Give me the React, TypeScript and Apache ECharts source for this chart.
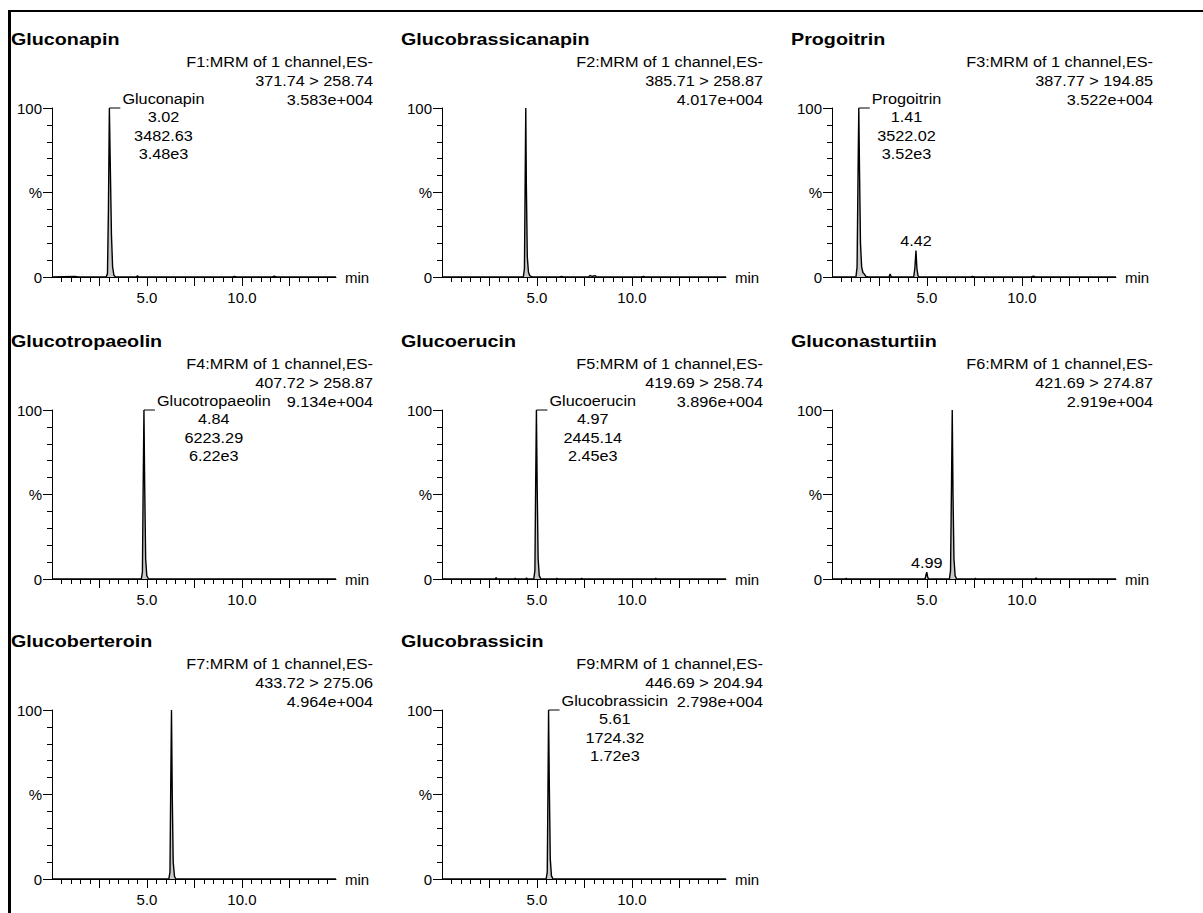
import React, { useEffect, useRef } from "react";
import * as echarts from "echarts";

// ---------- data ----------
const compounds = [
  "Gluconapin",
  "Glucobrassicanapin",
  "Progoitrin",
  "Glucotropaeolin",
  "Glucoerucin",
  "Gluconasturtiin",
  "Glucoberteroin",
  "Glucobrassicin",
];
const functionIds = ["F1", "F2", "F3", "F4", "F5", "F6", "F7", "F9"];
const transitions = [
  "371.74 > 258.74",
  "385.71 > 258.87",
  "387.77 > 194.85",
  "407.72 > 258.87",
  "419.69 > 258.74",
  "421.69 > 274.87",
  "433.72 > 275.06",
  "446.69 > 204.94",
];
const maxIntensities = [
  "3.583e+004",
  "4.017e+004",
  "3.522e+004",
  "9.134e+004",
  "3.896e+004",
  "2.919e+004",
  "4.964e+004",
  "2.798e+004",
];

// chromatogram traces: [time (min), relative intensity (%)]
const traceGluconapin = [
  [0, 0], [1.2, 0.3], [1.4, 0], [2.85, 0], [2.92, 2], [2.97, 40], [3.02, 100], [3.07, 65],
  [3.13, 25], [3.19, 6], [3.26, 1], [3.35, 0], [4.45, 0], [4.5, 0.8], [4.55, 0], [9.5, 0],
  [9.6, 0.4], [9.7, 0], [11.6, 0], [11.7, 0.5], [11.8, 0], [14.95, 0],
];
const traceGlucobrassicanapin = [
  [0, 0], [4.28, 0], [4.34, 5], [4.38, 60], [4.41, 100], [4.44, 55], [4.49, 12], [4.55, 3],
  [4.62, 0.8], [4.75, 0], [6.2, 0], [6.3, 0.4], [6.4, 0], [7.7, 0], [7.8, 0.9], [7.9, 0.3],
  [8.05, 0.8], [8.15, 0], [10.5, 0], [10.6, 0.4], [10.7, 0], [14.95, 0],
];
const traceProgoitrin = [
  [0, 0], [1.26, 0], [1.32, 6], [1.37, 60], [1.41, 100], [1.45, 62], [1.5, 20], [1.56, 6],
  [1.63, 2.5], [1.7, 1.8], [1.78, 0.4], [1.9, 0], [3.0, 0], [3.06, 1.8], [3.12, 0], [4.3, 0],
  [4.36, 5], [4.42, 15.6], [4.47, 5], [4.53, 0.6], [4.6, 0], [7.3, 0], [7.4, 0.4], [7.5, 0],
  [10.5, 0], [10.6, 0.5], [10.7, 0], [14.95, 0],
];
const traceGlucotropaeolin = [
  [0, 0], [4.7, 0], [4.76, 4], [4.8, 55], [4.84, 100], [4.88, 55], [4.93, 12], [4.99, 2],
  [5.08, 0], [14.95, 0],
];
const traceGlucoerucin = [
  [0, 0], [2.8, 0], [2.85, 0.8], [2.9, 0], [3.8, 0], [3.85, 0.5], [3.9, 0], [4.4, 0],
  [4.45, 0.6], [4.5, 0], [4.83, 0], [4.89, 5], [4.93, 55], [4.97, 100], [5.01, 55],
  [5.06, 12], [5.12, 2], [5.2, 0], [6.0, 0], [6.05, 0.4], [6.1, 0], [7.3, 0], [7.35, 0.4],
  [7.4, 0], [11.2, 0], [11.25, 0.5], [11.3, 0], [14.95, 0],
];
const traceGluconasturtiin = [
  [0, 0], [0.7, 0], [0.75, 0.4], [0.8, 0], [4.9, 0], [4.95, 2.5], [4.99, 4], [5.03, 1.5],
  [5.08, 0], [6.18, 0], [6.24, 5], [6.29, 55], [6.33, 100], [6.37, 50], [6.42, 12],
  [6.48, 2], [6.56, 0], [7.5, 0], [7.55, 0.4], [7.6, 0], [10.7, 0], [10.75, 0.6],
  [10.8, 0], [14.95, 0],
];
const traceGlucoberteroin = [
  [0, 0], [6.15, 0], [6.21, 4], [6.25, 55], [6.29, 100], [6.33, 50], [6.38, 10],
  [6.45, 1.5], [6.52, 0], [14.95, 0],
];
const traceGlucobrassicin = [
  [0, 0], [5.48, 0], [5.54, 4], [5.58, 55], [5.61, 100], [5.65, 55], [5.7, 12], [5.76, 2],
  [5.84, 0], [14.95, 0],
];
const traces = [
  traceGluconapin,
  traceGlucobrassicanapin,
  traceProgoitrin,
  traceGlucotropaeolin,
  traceGlucoerucin,
  traceGluconasturtiin,
  traceGlucoberteroin,
  traceGlucobrassicin,
];

// integrated peak annotations (null = not annotated)
const peakNames = ["Gluconapin", null, "Progoitrin", "Glucotropaeolin", "Glucoerucin", null, null, "Glucobrassicin"];
const peakTimes = [3.02, null, 1.41, 4.84, 4.97, null, null, 5.61];
const peakAreas = ["3482.63", null, "3522.02", "6223.29", "2445.14", null, null, "1724.32"];
const peakHeights = ["3.48e3", null, "3.52e3", "6.22e3", "2.45e3", null, null, "1.72e3"];

// small labelled peaks: panel index, time, height (%)
const minorPeakPanels = [2, 5];
const minorPeakTimes = [4.42, 4.99];
const minorPeakHeights = [15.6, 4];

// axis ticks
const xMajorTicks = [2.5, 5, 7.5, 10, 12.5];
const xLabelTicks = [5, 10];

// ---------- layout ----------
const COL_X = [0, 390, 780];
const ROW_Y = [0, 302, 602];
const FONT = '"Liberation Sans", Arial, sans-serif';
const SX = 1.16;

export default function App() {
  const ref = useRef<HTMLDivElement>(null);

  useEffect(() => {
    if (!ref.current) return;
    const chart = echarts.init(ref.current, undefined, { renderer: "svg" });

    const grids: any[] = [];
    const xAxes: any[] = [];
    const yAxes: any[] = [];
    const series: any[] = [];

    compounds.forEach((_, i) => {
      const cx = COL_X[i % 3];
      const ry = ROW_Y[Math.floor(i / 3)];
      grids.push({ left: 52 + cx, top: 108 + ry, width: 284, height: 169, containLabel: false });
      xAxes.push({
        type: "value",
        gridIndex: i,
        min: 0,
        max: 14.95,
        interval: 2.5,
        name: "min",
        nameLocation: "end",
        nameGap: 9,
        nameTextStyle: { color: "#000", fontSize: 15, fontFamily: FONT, verticalAlign: "middle" },
        axisLine: { show: true, onZero: false, lineStyle: { color: "#000", width: 1 } },
        axisTick: { show: true, length: 9, customValues: xMajorTicks, lineStyle: { color: "#000", width: 1 } },
        minorTick: { show: true, splitNumber: 5, length: 5, lineStyle: { color: "#000", width: 1 } },
        splitLine: { show: false },
        minorSplitLine: { show: false },
        axisLabel: {
          show: true,
          margin: 13,
          color: "#000",
          fontSize: 15,
          fontFamily: FONT,
          showMinLabel: false,
          showMaxLabel: false,
          formatter: (v: number) => (xLabelTicks.indexOf(v) >= 0 ? v.toFixed(1) : ""),
        },
      });
      yAxes.push({
        type: "value",
        gridIndex: i,
        min: 0,
        max: 100,
        interval: 50,
        axisLine: { show: true, lineStyle: { color: "#000", width: 1 } },
        axisTick: { show: true, length: 9, lineStyle: { color: "#000", width: 1 } },
        minorTick: { show: true, splitNumber: 5, length: 5, lineStyle: { color: "#000", width: 1 } },
        splitLine: { show: false },
        minorSplitLine: { show: false },
        axisLabel: {
          margin: 10,
          color: "#000",
          fontSize: 15,
          fontFamily: FONT,
          formatter: (v: number) => (v === 50 ? "%" : String(v)),
        },
      });
      series.push({
        type: "line",
        xAxisIndex: i,
        yAxisIndex: i,
        data: traces[i],
        symbol: "none",
        showSymbol: false,
        silent: true,
        lineStyle: { color: "#000", width: 1.4 },
        areaStyle: { color: "rgba(0,0,0,0.3)" },
      });
    });

    chart.setOption({
      animation: false,
      backgroundColor: "#fff",
      grid: grids,
      xAxis: xAxes,
      yAxis: yAxes,
      series,
    });

    // ---------- texts & frame ----------
    const ctx = document.createElement("canvas").getContext("2d")!;
    ctx.font = `14px ${FONT}`;
    const textW = (s: string) => ctx.measureText(s).width * SX;

    const txt = (text: string, x: number, y: number, align: string, bold = false, size = 14) => ({
      type: "text",
      x,
      y,
      scaleX: SX,
      silent: true,
      style: {
        text,
        fill: "#000",
        font: `${bold ? "bold " : ""}${size}px ${FONT}`,
        textAlign: align,
        textVerticalAlign: "middle",
        verticalAlign: "middle",
      },
    });

    const graphics: any[] = [
      { type: "rect", silent: true, shape: { x: 8, y: 10, width: 3, height: 903 }, style: { fill: "#000" } },
      { type: "rect", silent: true, shape: { x: 8, y: 10, width: 1195, height: 2 }, style: { fill: "#000" } },
    ];

    compounds.forEach((name, i) => {
      const cx = COL_X[i % 3];
      const ry = ROW_Y[Math.floor(i / 3)];
      graphics.push(txt(name, 11 + cx, 39 + ry, "left", true, 17));
      graphics.push(txt(`${functionIds[i]}:MRM of 1 channel,ES-`, 373 + cx, 62 + ry, "right"));
      graphics.push(txt(transitions[i], 373 + cx, 81 + ry, "right"));
      graphics.push(txt(maxIntensities[i], 373 + cx, 100 + ry, "right"));

      const rt = peakTimes[i];
      const pn = peakNames[i];
      if (rt != null && pn) {
        const [px, py] = chart.convertToPixel({ gridIndex: i }, [rt, 100]) as number[];
        graphics.push({
          type: "polyline",
          silent: true,
          shape: { points: [[px, py], [px + 11, py]] },
          style: { stroke: "#000", lineWidth: 1, fill: null },
        });
        const centerX = px + 13 + textW(pn) / 2;
        graphics.push(txt(pn, centerX, py - 9.5, "center"));
        graphics.push(txt(rt.toFixed(2), centerX, py + 9, "center"));
        graphics.push(txt(peakAreas[i] as string, centerX, py + 27.7, "center"));
        graphics.push(txt(peakHeights[i] as string, centerX, py + 46.4, "center"));
      }
    });

    minorPeakPanels.forEach((p, k) => {
      const [px, py] = chart.convertToPixel({ gridIndex: p }, [minorPeakTimes[k], minorPeakHeights[k]]) as number[];
      graphics.push(txt(minorPeakTimes[k].toFixed(2), px, py - 9.5, "center"));
    });

    chart.setOption({ graphic: graphics });

    return () => chart.dispose();
  }, []);

  return (
    <div
      ref={ref}
      style={{ position: "fixed", left: 0, top: 0, width: 1203, height: 913, background: "#fff" }}
    />
  );
}
